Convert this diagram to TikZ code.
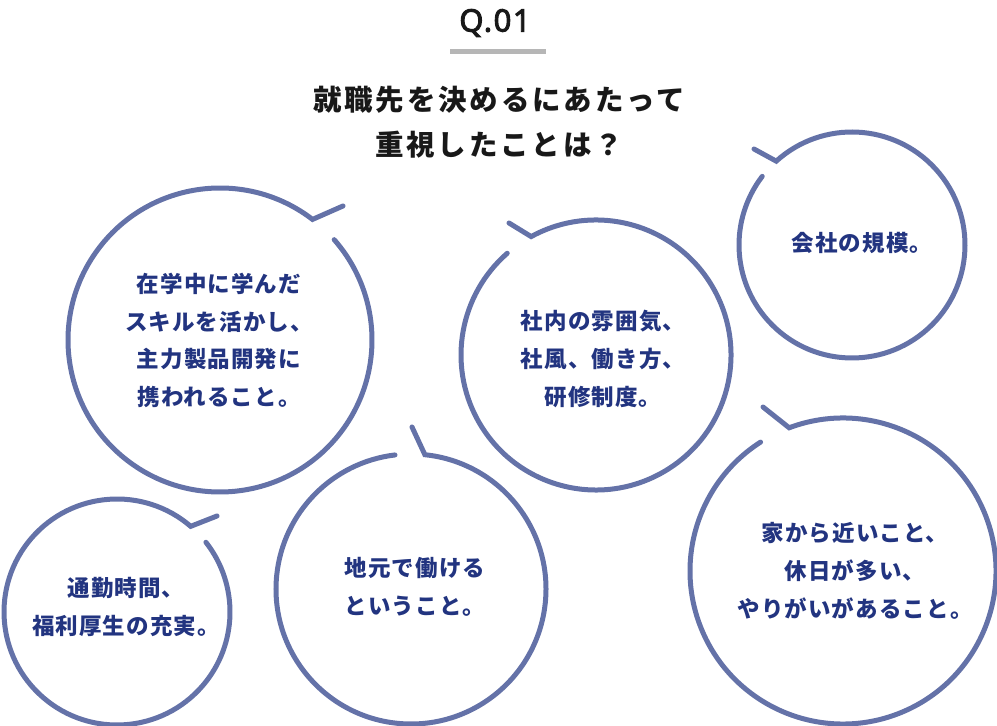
\documentclass[tikz,border=0pt]{standalone}
\usepackage{fontspec}
\usetikzlibrary{calc}
\newfontfamily\jpls{Noto Sans CJK JP}[LetterSpace=10]
\newfontfamily\jpbub{Noto Sans CJK JP}[LetterSpace=5]
\newfontfamily\qfont{Noto Sans}[LetterSpace=5,FakeBold=3]
\definecolor{bubblecol}{RGB}{100,114,168}
\definecolor{textcol}{RGB}{34,52,128}
\definecolor{barcol}{RGB}{182,182,182}
\definecolor{headcol}{RGB}{24,24,24}
\tikzset{
  bubble/.style={draw=bubblecol, line width=5pt, line cap=round, line join=miter},
  bubtext/.style={text=textcol, align=center, font=\jpbub\bfseries\fontsize{22.5}{37.7}\selectfont, inner sep=0pt},
  headtext/.style={text=headcol, align=center, font=\jpls\bfseries\fontsize{28.5}{45}\selectfont, inner sep=0pt},
}
\begin{document}
\begin{tikzpicture}[x=1pt,y=1pt]
\useasboundingbox (0,0) rectangle (997,726);
% title
\node[text=headcol, font=\qfont\fontsize{31}{31}\selectfont, inner sep=0pt] (q) at (495,703) {Q.01};
\fill[barcol] (450,672) rectangle (546,677);
\node[headtext] (head) at (499,603.5) {就職先を決めるにあたって\\重視したことは？};
% bubble 1
\coordinate (c1) at (220,386);
\coordinate (t1) at (343,520);
\draw[bubble] (t1) -- ($(c1)+(52.5:152)$) arc[start angle=52.5, end angle=401.3, radius=152];
\node[bubtext] (b1) at (219,385.5) {在学中に学んだ\\スキルを活かし、\\主力製品開発に\\携われること。};
% bubble 2
\coordinate (c2) at (596,371);
\coordinate (t2) at (509,503);
\draw[bubble] (t2) -- ($(c2)+(118.7:135)$) arc[start angle=118.7, end angle=-228.9, radius=135];
\node[bubtext] (b2) at (603,367) {社内の雰囲気、\\社風、働き方、\\研修制度。};
% bubble 3
\coordinate (c3) at (852,481);
\coordinate (t3) at (754,577);
\draw[bubble] (t3) -- ($(c3)+(132.1:113)$) arc[start angle=132.1, end angle=-217.4, radius=113];
\node[bubtext] (b3) at (862,483) {会社の規模。};
% bubble 4
\coordinate (c4) at (843,155);
\coordinate (t4) at (763,319);
\draw[bubble] (t4) -- ($(c4)+(110.6:153)$) arc[start angle=110.6, end angle=-237.4, radius=153];
\node[bubtext] (b4) at (855,155) {家から近いこと、\\休日が多い、\\やりがいがあること。};
% bubble 5
\coordinate (c5) at (117,114);
\coordinate (t5) at (217,210);
\draw[bubble] (t5) -- ($(c5)+(49.3:113)$) arc[start angle=49.3, end angle=398.1, radius=113];
\node[bubtext] (b5) at (126,119) {通勤時間、\\福利厚生の充実。};
% bubble 6
\coordinate (c6) at (411,137);
\coordinate (t6) at (412,299);
\draw[bubble] (t6) -- ($(c6)+(84.1:135)$) arc[start angle=84.1, end angle=-263.2, radius=135];
\node[bubtext] (b6) at (415,139) {地元で働ける\\ということ。};
\end{tikzpicture}
\end{document}
